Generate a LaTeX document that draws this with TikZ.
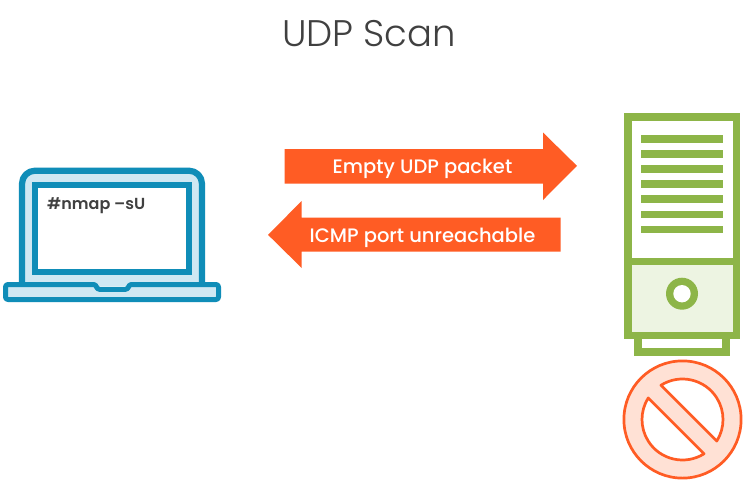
\documentclass[tikz,border=0pt]{standalone}
\usepackage{fontspec}
\setmainfont{Poppins}
\newfontfamily\lightfont{Poppins Light}
\newfontfamily\medfont{Poppins Medium}
\newfontfamily\semifont{Poppins SemiBold}
\definecolor{lapblue}{HTML}{0F8DB8}
\definecolor{lapfill}{HTML}{CFE8F3}
\definecolor{srvgreen}{HTML}{8DB548}
\definecolor{srvfill}{HTML}{EDF4E2}
\definecolor{arroworange}{HTML}{FF5C24}
\definecolor{nofill}{HTML}{FFE1D5}
\definecolor{inkgrey}{HTML}{404040}
\tikzset{
  lapline/.style={draw=lapblue,line join=round},
  srvbar/.style={fill=srvgreen,draw=none},
  blockarrow/.style={fill=arroworange,draw=none},
  arrowlabel/.style={text=white,anchor=base,inner sep=0pt,font=\medfont\fontsize{19.5}{22}\selectfont},
  nopart/.style={fill=white,draw=arroworange,line width=2.7pt,line join=round}
}
\begin{document}
\begin{tikzpicture}[x=1pt,y=-1pt]
\useasboundingbox[fill=white] (0,0) rectangle (753,480);
% title
\node[anchor=base,inner sep=0pt,text=inkgrey,font=\lightfont\fontsize{37}{40}\selectfont] (title) at (369,46) {UDP Scan};
% laptop
\draw[lapline,fill=lapfill,line width=6.2pt,rounded corners=13pt] (22,286) -- (22,170.7) -- (202,170.7) -- (202,286);
\draw[lapline,fill=white,line width=5.8pt,line join=miter] (34.9,185) rectangle (189,272);
\draw[lapline,fill=lapfill,line width=5pt,rounded corners=2.5pt] (5.5,284.5) -- (96,284.5) -- (97,289.3) -- (128,289.3) -- (129,284.5) -- (218.5,284.5) -- (218.5,299.5) -- (5.5,299.5) -- cycle;
\node[anchor=base west,inner sep=0pt,text=inkgrey,font=\semifont\fontsize{16}{18}\selectfont] (cmd) at (47,209.5) {\#nmap –sU};
% arrows
\fill[blockarrow] (284.5,149) -- (543,149) -- (543,132.5) -- (577,165.9) -- (543,200) -- (543,183.7) -- (284.5,183.7) -- cycle;
\node[arrowlabel] (req) at (422.5,173.5) {Empty UDP packet};
\fill[blockarrow] (560.7,217.7) -- (301.7,217.7) -- (301.7,201) -- (268,234.8) -- (301.7,268) -- (301.7,251.7) -- (560.7,251.7) -- cycle;
\node[arrowlabel] (resp) at (422.5,242) {ICMP port unreachable};
% server
\fill[srvgreen] (634,335) rectangle (730,356);
\fill[white] (642,335) rectangle (722,348);
\fill[srvgreen] (624,113) rectangle (740,339);
\fill[white] (632,121) rectangle (733,258);
\fill[srvfill] (632,265) rectangle (733,332);
\foreach \yy in {135,150.1,165.2,180.3,195.4,210.5,225.6}
  \fill[srvbar] (641,\yy) rectangle (723,\yy+7.6);
\fill[srvgreen] (682,293.7) circle[radius=16];
\fill[white] (682,293.7) circle[radius=8.7];
% prohibition sign
\draw[draw=arroworange,fill=nofill,line width=2.7pt] (682.5,419.5) circle[radius=58.6];
\draw[nopart] (682.5,419.5) ++(-122.2:40.5) arc[start angle=-122.2,end angle=32.2,radius=40.5] -- cycle;
\draw[nopart] (682.5,419.5) ++(57.8:40.5) arc[start angle=57.8,end angle=212.2,radius=40.5] -- cycle;
\end{tikzpicture}
\end{document}
